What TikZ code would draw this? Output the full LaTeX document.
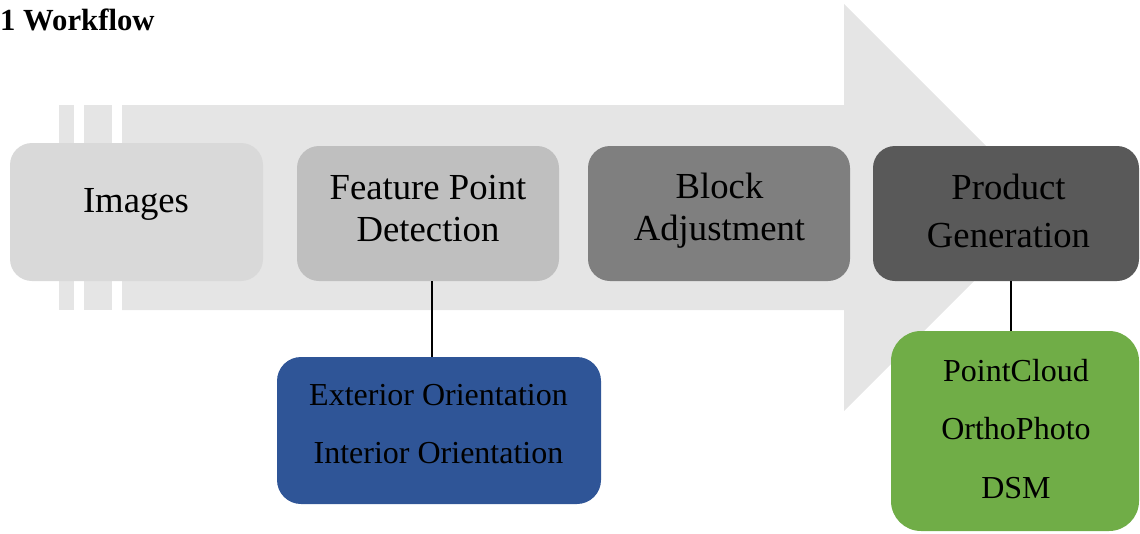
\documentclass[tikz,border=0pt]{standalone}
\usepackage{fontspec}
\setmainfont{Liberation Serif}
\definecolor{arrowgray}{HTML}{E5E5E5}
\definecolor{c1}{HTML}{D9D9D9}
\definecolor{c2}{HTML}{BFBFBF}
\definecolor{c3}{HTML}{7F7F7F}
\definecolor{c4}{HTML}{595959}
\definecolor{cblue}{HTML}{2F5597}
\definecolor{cgreen}{HTML}{70AD47}
\tikzset{
  stepbox/.style={rectangle, rounded corners=22pt, inner sep=0pt, draw=none},
  bigtxt/.style={inner sep=0pt, align=center, font=\fontsize{36.7}{42}\selectfont},
  smalltxt/.style={inner sep=0pt, align=center, font=\fontsize{32}{58.5}\selectfont},
  conn/.style={draw=black, line width=2pt},
  titletxt/.style={inner sep=0pt, anchor=base west, font=\bfseries\fontsize{30.7}{36}\selectfont}
}
\begin{document}
\begin{tikzpicture}[x=1pt,y=-1pt]
\useasboundingbox (0,0) rectangle (1140,533);
% background arrow
\fill[arrowgray] (59,105) rectangle (74,310);
\fill[arrowgray] (84,105) rectangle (112,310);
\fill[arrowgray] (122,105) -- (844,105) -- (844,4) -- (1047.5,207.5) -- (844,411) -- (844,310) -- (122,310) -- cycle;
% title
\node[titletxt] (ttl) at (0,30) {1 Workflow};
% boxes
\node[stepbox, fill=c1, minimum width=253pt, minimum height=138pt] (b1) at (136.5,212) {};
\node[stepbox, fill=c2, minimum width=262pt, minimum height=135pt] (b2) at (428,213.5) {};
\node[stepbox, fill=c3, minimum width=262pt, minimum height=135pt] (b3) at (719,213.5) {};
\node[stepbox, fill=c4, minimum width=266pt, minimum height=135pt] (b4) at (1006,213.5) {};
\node[stepbox, fill=cblue, rounded corners=24pt, minimum width=324pt, minimum height=147pt] (eo) at (439,430.5) {};
\node[stepbox, fill=cgreen, rounded corners=30pt, minimum width=248pt, minimum height=200pt] (pr) at (1015,431) {};
% texts
\node[bigtxt] (t1) at (136,203.6) {\strut Images};
\node[bigtxt] (t2) at (428,211.6) {\strut Feature Point\\\strut Detection};
\node[bigtxt] (t3) at (719.5,210.6) {\strut Block\\\strut Adjustment};
\node[bigtxt, font=\fontsize{36.7}{48}\selectfont] (t4) at (1008.5,213.4) {\strut Product\\\strut Generation};
\node[smalltxt, font=\fontsize{32}{58}\selectfont] (t5) at (438.5,422.4) {\strut Exterior Orientation\\\strut Interior Orientation};
\node[smalltxt] (t6) at (1016,427.8) {\strut PointCloud\\\strut OrthoPhoto\\\strut DSM};
% connectors
\coordinate (lx1) at (432,0);
\coordinate (lx2) at (1011,0);
\draw[conn] (b2.south -| lx1) -- (eo.north -| lx1);
\draw[conn] (b4.south -| lx2) -- (pr.north -| lx2);
\end{tikzpicture}
\end{document}
